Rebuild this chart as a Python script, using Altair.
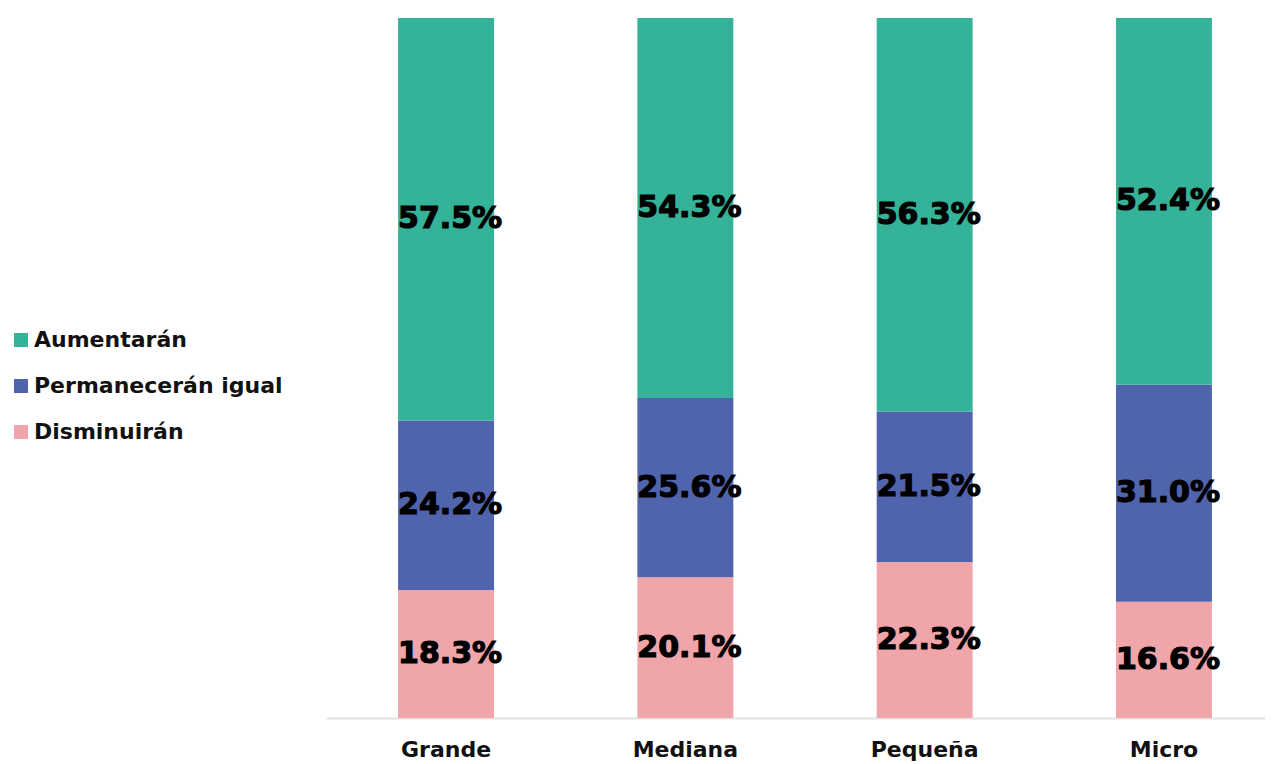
import altair as alt
import pandas as pd

categories = ["Grande", "Mediana", "Pequeña", "Micro"]
series = ["Aumentarán", "Permanecerán igual", "Disminuirán"]
aumentaran = [57.5, 54.3, 56.3, 52.4]
permaneceran = [24.2, 25.6, 21.5, 31.0]
disminuiran = [18.3, 20.1, 22.3, 16.6]
colors = ["#34B398", "#5064AE", "#F0A5AB"]

rows = []
for i, cat in enumerate(categories):
    stack = [("Disminuirán", disminuiran[i]), ("Permanecerán igual", permaneceran[i]), ("Aumentarán", aumentaran[i])]
    total = sum(v for _, v in stack)
    cum = 0.0
    for name, v in stack:
        y0 = cum / total
        cum += v
        y1 = cum / total
        rows.append({"cat": cat, "serie": name, "value": v, "y0": y0, "y1": y1,
                     "mid": (y0 + y1) / 2, "label": f"{v:.1f}%"})
df = pd.DataFrame(rows)

FONT = "DejaVu Sans"

x = alt.X("cat:N", sort=categories,
          scale=alt.Scale(paddingInner=0.599, paddingOuter=0.2615, align=0.576),
          axis=alt.Axis(title=None, ticks=False, domainColor="#e2e2e2", domainWidth=2,
                        labelFontSize=22, labelFont=FONT, labelFontWeight="bold",
                        labelColor="#111111", labelPadding=21, labelAngle=0))

bars = alt.Chart(df).mark_bar().encode(
    x=x,
    y=alt.Y("y0:Q", scale=alt.Scale(domain=[0, 1]), axis=None),
    y2="y1:Q",
    color=alt.Color("serie:N", scale=alt.Scale(domain=series, range=colors),
                    legend=alt.Legend(title=None, orient="none", legendX=-316, legendY=311,
                                      symbolType="square", symbolSize=196, symbolStrokeWidth=0,
                                      labelFontSize=22, labelFont=FONT, labelFontWeight="bold",
                                      labelColor="#111111", rowPadding=24, labelOffset=2,
                                      labelLimit=500)),
)

text = alt.Chart(df).mark_text(align="left", baseline="middle", dx=-48, fontSize=30,
                               font=FONT, fontWeight="bold", color="#000000",
                               stroke="#000000", strokeWidth=1.2).encode(
    x=alt.X("cat:N", sort=categories),
    y=alt.Y("mid:Q"),
    text="label:N",
)

chart = (bars + text).properties(
    width=939, height=700,
    autosize=alt.AutoSizeParams(type="none"),
    padding={"left": 318, "top": 10, "right": 0, "bottom": 46},
).configure_view(stroke=None)

chart.save("out.html", embed_options={"renderer": "svg", "actions": False})
